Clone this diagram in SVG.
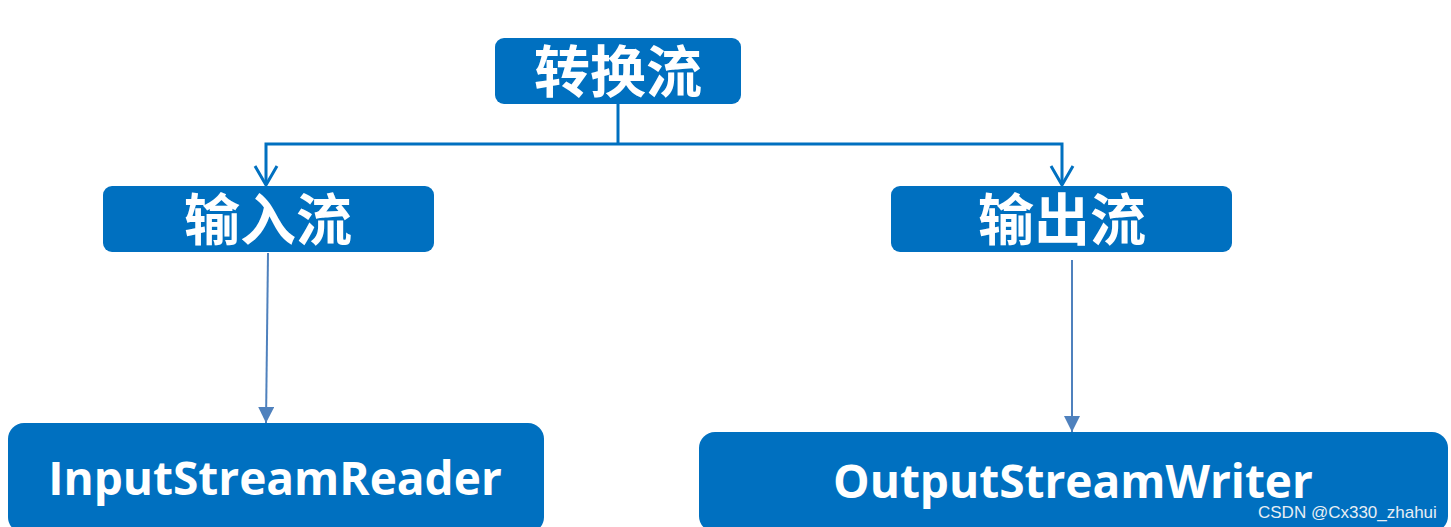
<svg xmlns="http://www.w3.org/2000/svg" width="1451" height="527" viewBox="0 0 1451 527">
<defs>
<style>
.box{fill:#0070C0;}
.cn{font-family:"Noto Sans CJK SC","Noto Sans",sans-serif;font-weight:bold;font-size:56px;fill:#fff;text-anchor:middle;}
.en{font-family:"Open Sans","Liberation Sans",sans-serif;font-weight:bold;font-size:46px;fill:#fff;text-anchor:middle;}
.main{fill:none;stroke:#0070C0;stroke-width:3;}
.thin{fill:none;stroke:#4F81BD;stroke-width:2;}
.wm{font-family:"Liberation Sans",Arial,sans-serif;font-size:17px;fill:#e8eef4;}
</style>
<marker id="open" viewBox="0 0 24 26" refX="22" refY="13" markerWidth="24" markerHeight="26" markerUnits="userSpaceOnUse" orient="auto">
<path d="M3,2 L22,13 L3,24" fill="none" stroke="#0070C0" stroke-width="3"/>
</marker>
<marker id="tri" viewBox="0 0 16 16" refX="16" refY="8" markerWidth="16" markerHeight="16" markerUnits="userSpaceOnUse" orient="auto">
<path d="M0,0 L16,8 L0,16 Z" fill="#4F81BD"/>
</marker>
</defs>
<g id="connectors">
<path class="main" d="M618,104 V144"/>
<path class="main" d="M618,144 H266 V185" marker-end="url(#open)"/>
<path class="main" d="M618,144 H1062 V185" marker-end="url(#open)"/>
<path class="thin" d="M268,253 L266,423" marker-end="url(#tri)"/>
<path class="thin" d="M1072,260 L1072,432" marker-end="url(#tri)"/>
</g>
<g id="node-convert">
<rect class="box" x="495" y="38" width="246" height="66" rx="9"/>
<text class="cn" x="618" y="92">转换流</text>
</g>
<g id="node-input">
<rect class="box" x="103" y="186" width="331" height="66" rx="9"/>
<text class="cn" x="268" y="240">输入流</text>
</g>
<g id="node-output">
<rect class="box" x="891" y="186" width="341" height="66" rx="9"/>
<text class="cn" x="1062" y="240">输出流</text>
</g>
<g id="node-isr">
<rect class="box" x="8" y="423" width="536" height="110" rx="16"/>
<text class="en" x="275" y="495">InputStreamReader</text>
</g>
<g id="node-osw">
<rect class="box" x="699" y="432" width="749" height="100" rx="16"/>
<text class="en" x="1073" y="498">OutputStreamWriter</text>
</g>
<text class="wm" x="1258" y="518">CSDN @Cx330_zhahui</text>
</svg>
